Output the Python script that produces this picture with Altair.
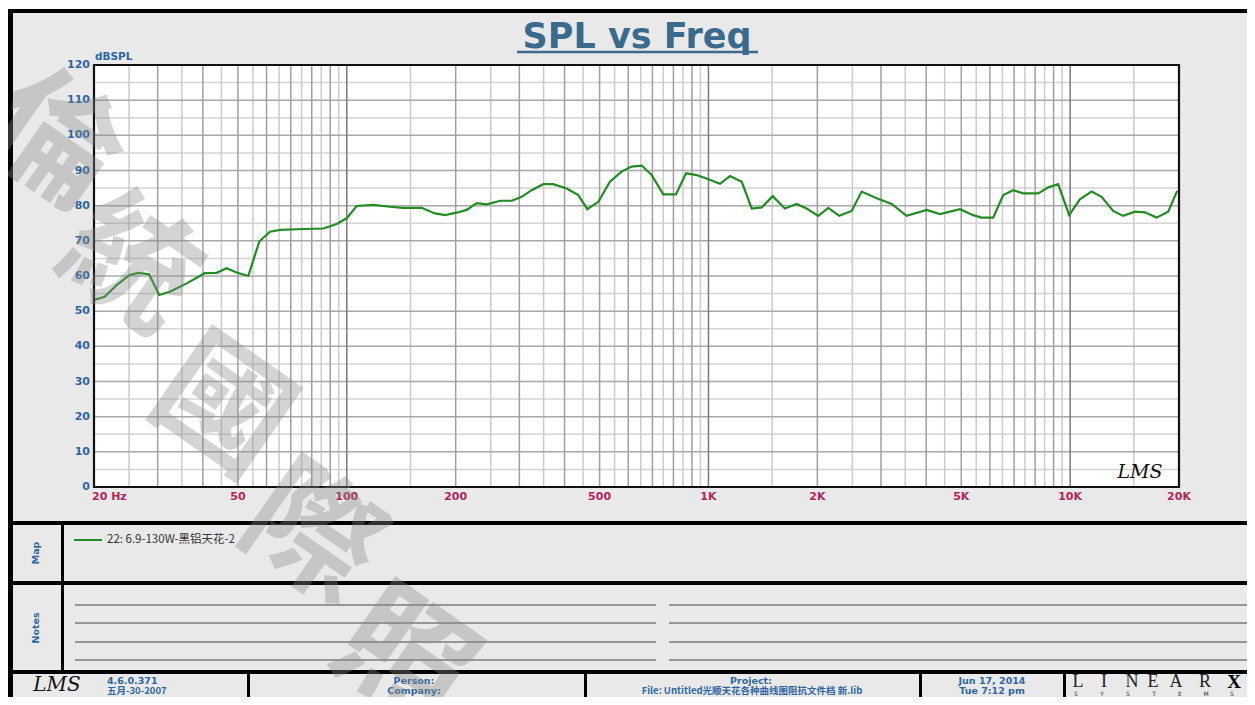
import altair as alt
import pandas as pd

# ---------------- data ----------------
freq_hz = [20, 21.4, 23.1, 25.1, 26.5, 28.4, 30.3, 32.4, 36.1, 40.5,
           43.7, 46.5, 49.6, 53.4, 57.3, 61.3, 65.4, 72.7, 86.1, 93.8,
           99.9, 106.5, 118.4, 131.7, 143.3, 161.1, 175.3, 186.9, 201.3, 214.5,
           228.6, 243.8, 265.3, 285.7, 304.5, 324.5, 349.3, 372.3, 405.5, 436.6,
           462.4, 496, 534, 575, 613, 654, 697, 750, 813, 867,
           928, 999, 1076, 1147, 1236, 1317, 1404, 1505, 1627, 1753,
           1868, 2012, 2145, 2299, 2488, 2653, 2918, 3210, 3531, 4011,
           4366, 4959, 5396, 5692, 6128, 6533, 6963, 7419, 8162, 8696,
           9268, 9939, 10641, 11465, 12216, 13151, 14019, 15101, 16096, 17338,
           18670, 19770]
spl_db = [53.2, 54.1, 57.4, 60.3, 60.9, 60.5, 54.6, 55.5, 57.9, 60.8,
          60.9, 62.2, 61.0, 60.0, 69.8, 72.6, 73.1, 73.3, 73.5, 74.8,
          76.4, 79.9, 80.2, 79.7, 79.4, 79.4, 77.8, 77.3, 78.0, 78.8,
          80.7, 80.4, 81.4, 81.4, 82.5, 84.4, 86.1, 86.1, 84.9, 83.0,
          79.0, 81.1, 86.8, 89.7, 91.1, 91.4, 88.7, 83.2, 83.2, 89.2,
          88.7, 87.5, 86.2, 88.4, 86.8, 79.2, 79.5, 82.7, 79.2, 80.5,
          79.2, 77.1, 79.4, 77.1, 78.5, 84.0, 82.1, 80.5, 77.1, 78.8,
          77.6, 79.0, 77.3, 76.6, 76.6, 83.0, 84.4, 83.5, 83.5, 85.2,
          86.1, 77.3, 81.8, 84.0, 82.5, 78.5, 77.1, 78.3, 78.1, 76.6,
          78.3, 84.2]

series_name = "22: 6.9-130W-黑铝天花-2"

x_tick_values = [50, 100, 200, 500, 1000, 2000, 5000, 10000, 20000]
x_tick_labels = ["50", "100", "200", "500", "1K", "2K", "5K", "10K", "20K"]
y_tick_values = [0, 10, 20, 30, 40, 50, 60, 70, 80, 90, 100, 110, 120]
y_tick_labels = ["0", "10", "20", "30", "40", "50", "60", "70", "80", "90", "100", "110", "120"]

x_grid_decade = [100, 1000, 10000]
x_grid_major = [30, 40, 50, 60, 70, 80, 90,
                200, 300, 400, 500, 600, 700, 800, 900,
                2000, 3000, 4000, 5000, 6000, 7000, 8000, 9000]
x_grid_minor = [25, 35, 45, 55, 65, 75, 85, 95,
                150, 250, 350, 450, 550, 650, 750, 850, 950,
                1500, 2500, 3500, 4500, 5500, 6500, 7500, 8500, 9500,
                15000]
y_grid_major = [10, 20, 30, 40, 50, 60, 70, 80, 90, 100, 110]
y_grid_minor = [5, 15, 25, 35, 45, 55, 65, 75, 85, 95, 105, 115]

# ---------------- layout ----------------
OX, OY = 94, 65          # page position of the plot origin
W, H = 1085, 422
BLUE = "#2f66a0"
TITLE_BLUE = "#3b6b8c"
RED = "#b0245a"
GRAY_BG = "#e9e9e9"
FONT = "DejaVu Sans"
CJK = "Noto Sans CJK SC"

dummy = pd.DataFrame({"d": [0]})
xs = alt.Scale(type="log", domain=[20, 20000], nice=False)
ys = alt.Scale(domain=[0, 120], nice=False, zero=False)


def rect(x1, y1, x2, y2, color):
    return alt.Chart(dummy).mark_rect(color=color).encode(
        x=alt.value(x1 - OX), x2=alt.value(x2 - OX),
        y=alt.value(y1 - OY), y2=alt.value(y2 - OY))


def seg(x1, y1, x2, y2, color, w):
    return alt.Chart(dummy).mark_rule(color=color, strokeWidth=w).encode(
        x=alt.value(x1 - OX), x2=alt.value(x2 - OX),
        y=alt.value(y1 - OY), y2=alt.value(y2 - OY))


def label(text, x, y, size, color, weight="normal", align="left",
          font=FONT, angle=0, style="normal", baseline="middle", opacity=1.0):
    return alt.Chart(dummy).mark_text(
        text=text, fontSize=size, color=color, fontWeight=weight, align=align,
        font=font, angle=angle, fontStyle=style, baseline=baseline, opacity=opacity
    ).encode(x=alt.value(x - OX), y=alt.value(y - OY))


layers = []

# page background + outer border
layers.append(rect(13, 13, 1300, 760, GRAY_BG))
layers.append(rect(8, 9, 13, 760, "#000000"))
layers.append(rect(8, 9, 1300, 13, "#000000"))

# plot area
layers.append(rect(OX, OY, OX + W, OY + H, "#ffffff"))

# grid
gx_minor = pd.DataFrame({"f": x_grid_minor})
gx_major = pd.DataFrame({"f": x_grid_major})
gx_dec = pd.DataFrame({"f": x_grid_decade})
gy_minor = pd.DataFrame({"v": y_grid_minor})
gy_major = pd.DataFrame({"v": y_grid_major})

layers.append(alt.Chart(gy_minor).mark_rule(color="#d4d4d4", strokeWidth=1.5).encode(
    y=alt.Y("v:Q", scale=ys, axis=None), x=alt.value(0), x2=alt.value(W)))
layers.append(alt.Chart(gx_minor).mark_rule(color="#cccccc", strokeWidth=1.5).encode(
    x=alt.X("f:Q", scale=xs, axis=None), y=alt.value(0), y2=alt.value(H)))
layers.append(alt.Chart(gy_major).mark_rule(color="#a8a8a8", strokeWidth=1.5).encode(
    y=alt.Y("v:Q", scale=ys, axis=None), x=alt.value(0), x2=alt.value(W)))
layers.append(alt.Chart(gx_major).mark_rule(color="#a0a0a0", strokeWidth=1.5).encode(
    x=alt.X("f:Q", scale=xs, axis=None), y=alt.value(0), y2=alt.value(H)))
layers.append(alt.Chart(gx_dec).mark_rule(color="#7a7a7a", strokeWidth=1.5).encode(
    x=alt.X("f:Q", scale=xs, axis=None), y=alt.value(0), y2=alt.value(H)))

# curve
curve = pd.DataFrame({"freq": freq_hz, "spl": spl_db})
layers.append(alt.Chart(curve).mark_line(color="#238b23", strokeWidth=2.2).encode(
    x=alt.X("freq:Q", scale=xs, axis=None),
    y=alt.Y("spl:Q", scale=ys, axis=None)))

# plot border
layers.append(alt.Chart(dummy).mark_rect(filled=False, stroke="#111111", strokeWidth=2.2).encode(
    x=alt.value(0), x2=alt.value(W), y=alt.value(0), y2=alt.value(H)))

# tick labels
xt = pd.DataFrame({"f": x_tick_values, "t": x_tick_labels})
layers.append(alt.Chart(xt).mark_text(
    fontSize=11, fontWeight="bold", color=RED, font=FONT, align="center", baseline="middle"
).encode(x=alt.X("f:Q", scale=xs, axis=None), y=alt.value(497 - OY), text="t:N"))
first_x = pd.DataFrame({"f": [20], "t": ["20  Hz"]})
layers.append(alt.Chart(first_x).mark_text(
    fontSize=11, fontWeight="bold", color=RED, font=FONT, align="left", baseline="middle", dx=-2
).encode(x=alt.X("f:Q", scale=xs, axis=None), y=alt.value(497 - OY), text="t:N"))
yt = pd.DataFrame({"v": y_tick_values, "t": y_tick_labels})
layers.append(alt.Chart(yt).mark_text(
    fontSize=11, fontWeight="bold", color=BLUE, font=FONT, align="right", baseline="middle"
).encode(y=alt.Y("v:Q", scale=ys, axis=None), x=alt.value(90 - OX), text="t:N"))
layers.append(label("dBSPL", 95, 57, 10.5, BLUE, weight="bold"))

# LMS logo in plot
layers.append(label("LMS", 1140, 472, 19, "#111111", align="center",
                    font="DejaVu Serif", style="italic"))

# title
layers.append(label("SPL vs Freq", 637, 48, 35, TITLE_BLUE, weight="bold",
                    align="center", baseline="alphabetic"))
layers.append(seg(517, 52, 758, 52, TITLE_BLUE, 2.5))

# panel separators
for y1, y2 in [(521, 525), (581, 585), (670, 674)]:
    layers.append(rect(8, y1, 1300, y2, "#000000"))
layers.append(rect(61, 523, 64, 672, "#000000"))
for x1 in [247, 584, 919, 1063]:
    layers.append(rect(x1, 672, x1 + 3, 760, "#000000"))

# Map panel
layers.append(label("Map", 36, 553, 9.5, BLUE, weight="bold", align="center", angle=270))
layers.append(seg(74, 540, 102, 540, "#238b23", 2))
layers.append(label(series_name, 107, 540, 11.5, "#333333", font=CJK))

# Notes panel
layers.append(label("Notes", 36, 628, 9.5, BLUE, weight="bold", align="center", angle=270))
for y in [605, 623, 642, 660]:
    layers.append(seg(75, y, 656, y, "#7a7a7a", 1.6))
    layers.append(seg(669, y, 1250, y, "#7a7a7a", 1.6))

# footer (the canvas ends at y=697, so its two rows sit a little higher)
R1, R2, FS = 680.5, 690.5, 9.5
layers.append(label("LMS", 57, 685, 20, "#111111", align="center",
                    font="DejaVu Serif", style="italic"))
layers.append(label("4.6.0.371", 107, R1, FS, BLUE, weight="bold"))
layers.append(label("五月-30-2007", 107, R2, FS, BLUE, weight="bold", font=CJK))
layers.append(label("Person:", 414, R1, FS, BLUE, weight="bold", align="center"))
layers.append(label("Company:", 414, R2, FS, BLUE, weight="bold", align="center"))
layers.append(label("Project:", 751, R1, FS, BLUE, weight="bold", align="center"))
layers.append(label("File: Untitled光顺天花各种曲线图阻抗文件档 新.lib", 752, R2, FS, BLUE,
                    weight="bold", align="center", font=CJK))
layers.append(label("Jun 17, 2014", 992, R1, FS, BLUE, weight="bold", align="center"))
layers.append(label("Tue  7:12 pm", 992, R2, FS, BLUE, weight="bold", align="center"))

linearx_letters = ["L", "I", "N", "E", "A", "R"]
linearx_x = [1078, 1104, 1132, 1153, 1176, 1205]
for ch, x in zip(linearx_letters, linearx_x):
    layers.append(label(ch, x, 682, 18, "#222222", align="center", font="Liberation Serif"))
layers.append(label("X", 1234, 682, 19, "#000000", weight="bold", align="center",
                    font="Liberation Serif"))
systems_x = [1076, 1102, 1128, 1154, 1180, 1206, 1232]
for ch, x in zip(["S", "Y", "S", "T", "E", "M", "S"], systems_x):
    layers.append(label(ch, x, 693.5, 6, "#333333", align="center"))

# watermark
wm_chars = ["倫", "統", "國", "際", "照"]
wm_pos = [(52, 145), (128, 268), (220, 410), (310, 538), (402, 662)]
for ch, (x, y) in zip(wm_chars, wm_pos):
    layers.append(label(ch, x, y, 130, "#8a8a8a", weight="bold", align="center",
                        font="Noto Sans CJK TC", angle=35, opacity=0.36))

chart = alt.layer(*layers).properties(
    width=W, height=H,
    autosize=alt.AutoSizeParams(type="none"),
    padding={"left": 86, "top": 57, "right": 68, "bottom": 210},
    background="#ffffff",
).configure_view(strokeWidth=0)

chart.save("out.html", embed_options={"renderer": "svg", "actions": False})
